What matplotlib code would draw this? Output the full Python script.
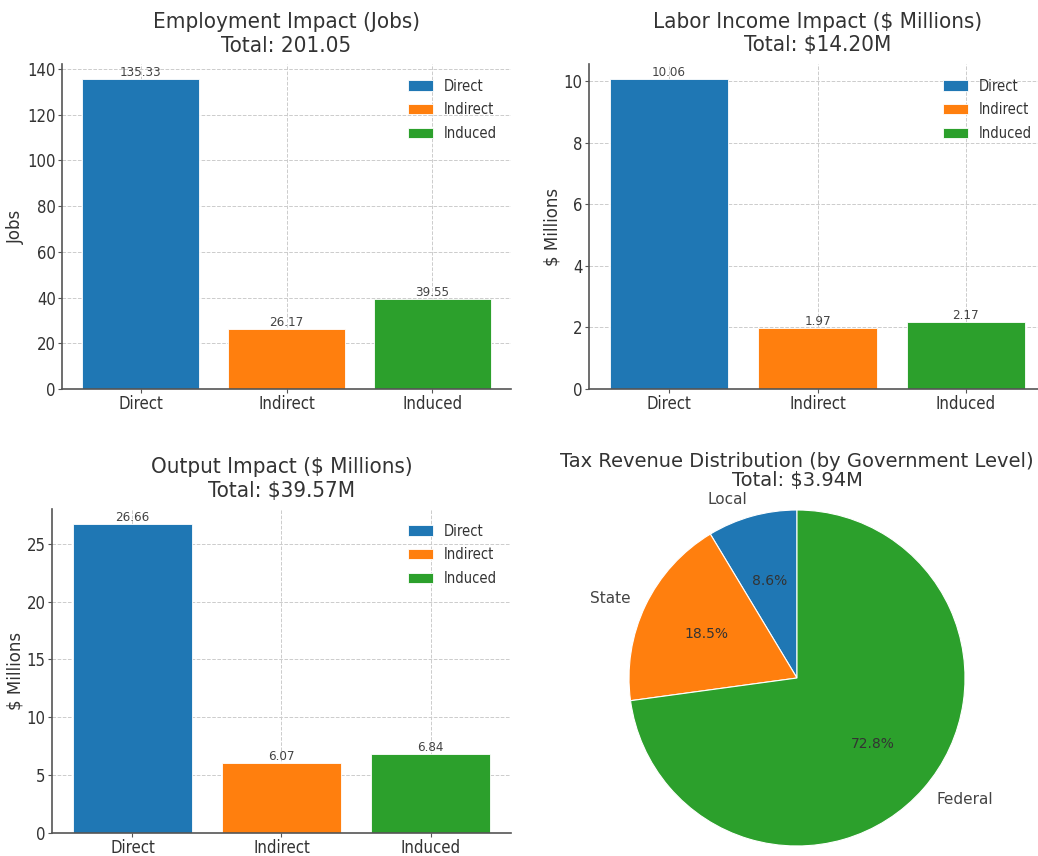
import matplotlib
matplotlib.use("Agg")
import matplotlib.pyplot as plt

# data
categories = ["Direct", "Indirect", "Induced"]
jobs = [135.33, 26.17, 39.55]
labor_income = [10.06, 1.97, 2.17]
output = [26.66, 6.07, 6.84]
tax_levels = ["Local", "State", "Federal"]
tax_revenue = [0.34, 0.73, 2.87]

colors = ["#1f77b4", "#ff7f0e", "#2ca02c"]
txt = "#333333"
cond = dict(family="DejaVu Sans", stretch="condensed")

plt.rcParams["font.family"] = "DejaVu Sans"
plt.rcParams["text.color"] = txt
plt.rcParams["axes.labelcolor"] = txt
plt.rcParams["xtick.color"] = txt
plt.rcParams["ytick.color"] = txt

fig = plt.figure(figsize=(10.38, 8.56), dpi=100)
W, H = 1038, 856


def px_axes(x0, y0, x1, y1):
    return fig.add_axes([x0 / W, 1 - y1 / H, (x1 - x0) / W, (y1 - y0) / H])


def bar_panel(ax, values, title, ylabel, fmt):
    bars = ax.bar(categories, values, color=colors, edgecolor="white",
                  linewidth=0.6, label=categories, zorder=2)
    for b, v in zip(bars, values):
        ax.text(b.get_x() + b.get_width() / 2, v, fmt.format(v), ha="center",
                va="bottom", fontsize=9.5, color="#444444", **cond)
    ax.set_title(title, fontsize=16, color=txt, pad=9, **cond)
    ax.set_ylabel(ylabel, fontsize=12, labelpad=1.5)
    ax.grid(True, linestyle="--", color="#cccccc", linewidth=0.7, zorder=0)
    ax.set_axisbelow(True)
    for s in ["top", "right"]:
        ax.spines[s].set_visible(False)
    for s in ["left", "bottom"]:
        ax.spines[s].set_color("#555555")
        ax.spines[s].set_linewidth(1.2)
    ax.tick_params(length=3, pad=1.5, color="#555555")
    for lab in ax.get_xticklabels() + ax.get_yticklabels():
        lab.set_fontsize(12)
        lab.set_fontstretch("condensed")
    leg = ax.legend(frameon=False, loc="upper right", prop=dict(size=10.5, **cond),
                    handlelength=1.7, handletextpad=0.7, labelspacing=0.6,
                    borderaxespad=0.6)
    for t in leg.get_texts():
        t.set_color(txt)


ax1 = px_axes(62, 64, 511, 389)
bar_panel(ax1, jobs, "Employment Impact (Jobs)\nTotal: {:.2f}".format(sum(jobs)),
          "Jobs", "{:.2f}")

ax2 = px_axes(589, 64, 1046, 389)
bar_panel(ax2, labor_income,
          "Labor Income Impact ($ Millions)\nTotal: ${:.2f}M".format(sum(labor_income)),
          "$ Millions", "{:.2f}")

ax3 = px_axes(52, 509, 511, 833)
bar_panel(ax3, output,
          "Output Impact ($ Millions)\nTotal: ${:.2f}M".format(sum(output)),
          "$ Millions", "{:.2f}")

ax4 = px_axes(587, 468, 1007, 888)
wedges, labels, pcts = ax4.pie(tax_revenue, labels=tax_levels, colors=colors,
                               autopct="%1.1f%%", startangle=90,
                               wedgeprops=dict(edgecolor="white", linewidth=0.8),
                               textprops=dict(fontsize=11, color="#444444"))
for p in pcts:
    p.set_fontsize(10)
    p.set_color(txt)
ax4.set_aspect("equal")
ax4.set_title("Tax Revenue Distribution (by Government Level)\nTotal: ${:.2f}M".format(sum(tax_revenue)),
              fontsize=14, color=txt, pad=0, y=0.956, linespacing=1.05)

fig.savefig("out.png", dpi=100)
